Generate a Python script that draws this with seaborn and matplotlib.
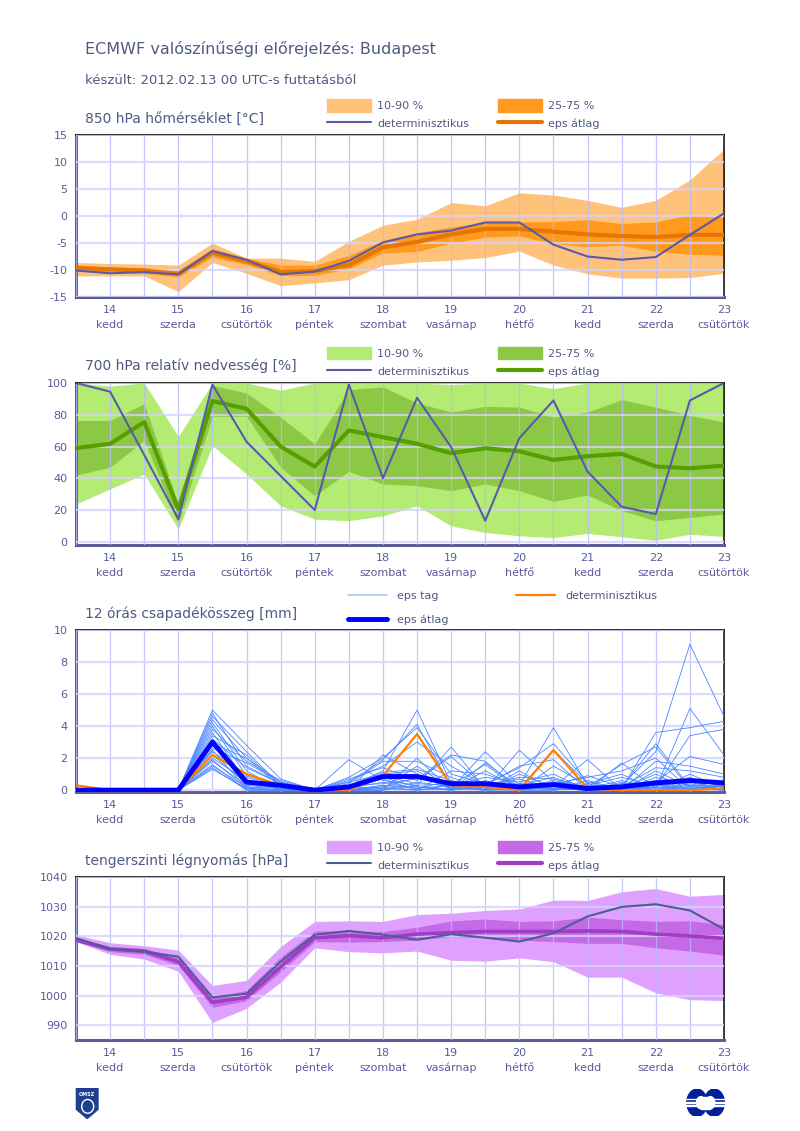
import numpy as np
import pandas as pd
import matplotlib
matplotlib.use("Agg")
import matplotlib.pyplot as plt
from matplotlib.patches import Patch, Polygon, Ellipse, Rectangle
from matplotlib.lines import Line2D
import seaborn as sns

# time axis: days of February 2012, 12 hour steps
days = [13.5, 14.0, 14.5, 15.0, 15.5, 16.0, 16.5, 17.0, 17.5, 18.0,
        18.5, 19.0, 19.5, 20.0, 20.5, 21.0, 21.5, 22.0, 22.5, 23.0]
day_ticks = [14, 15, 16, 17, 18, 19, 20, 21, 22, 23]
day_names = ["kedd", "szerda", "csütörtök", "péntek", "szombat",
             "vasárnap", "hétfő", "kedd", "szerda", "csütörtök"]

# 850 hPa temperature
t_det = [-10.1, -10.6, -10.4, -10.8, -6.5, -8.1, -10.8, -10.3, -8.3, -4.9,
         -3.4, -2.7, -1.2, -1.2, -5.3, -7.5, -8.1, -7.6, -3.5, 0.5]
t_mean = [-9.6, -9.9, -10.1, -10.7, -6.8, -8.4, -10.3, -10.2, -9.1, -5.8,
          -4.8, -3.4, -2.4, -2.4, -2.9, -3.4, -3.7, -3.9, -3.5, -3.5]
t_p10 = [-11.1, -11.1, -11.1, -14.0, -8.6, -10.6, -12.9, -12.4, -11.8, -9.1,
         -8.5, -8.2, -7.7, -6.5, -9.1, -10.7, -11.5, -11.5, -11.4, -10.6]
t_p90 = [-8.6, -8.8, -8.9, -9.1, -5.0, -7.8, -7.8, -8.4, -4.7, -1.7,
         -0.6, 2.5, 1.9, 4.3, 3.9, 2.9, 1.6, 2.9, 6.7, 12.4]
t_p25 = [-10.1, -10.4, -10.6, -11.3, -7.6, -9.0, -11.0, -11.0, -9.8, -6.8,
         -6.6, -5.0, -3.9, -3.7, -5.1, -5.7, -5.4, -6.5, -7.1, -7.3]
t_p75 = [-9.1, -9.4, -9.6, -10.1, -6.0, -7.8, -9.1, -9.1, -7.3, -4.5,
         -3.1, -2.0, -1.2, -1.1, -1.0, -0.7, -1.4, -1.1, 0.2, -0.3]

# 700 hPa relative humidity
rh_det = [100, 94.5, 54.7, 14.3, 99, 63, 41.5, 20, 99, 40,
          90.7, 59.6, 13.3, 65.3, 89, 44.2, 22.1, 17.5, 89, 100]
rh_mean = [59, 61.7, 75.4, 20.6, 88.6, 83.8, 60, 47.4, 70.1, 65.9,
           61.7, 55.8, 58.9, 57, 51.6, 53.9, 55.4, 47.4, 46.3, 48]
rh_p10 = [23.8, 33.3, 42.7, 8, 60.6, 42.7, 22.7, 14.3, 13.3, 16.4,
          22.7, 10.1, 5.9, 3.8, 2.7, 5.3, 3.2, 1, 4.8, 3.4]
rh_p90 = [100, 98, 100, 66.3, 100, 100, 95.4, 100, 100, 100,
          100, 99, 100, 100, 96.4, 100, 100, 100, 100, 100]
rh_p25 = [42, 47, 63.8, 11.2, 79, 79, 47, 29, 44.4, 36.4,
          35.4, 32.2, 36.4, 32.2, 25.5, 29.5, 19.6, 13.3, 15.4, 17.5]
rh_p75 = [76.4, 76.4, 87, 23.8, 98.5, 93.7, 78.5, 61.7, 95.8, 97.5,
          87.4, 81.7, 85.3, 84.8, 78.5, 81.7, 89.5, 84.8, 79.6, 75.4]

# 12 hour precipitation
pr_det = [0.3, 0, 0, 0, 2.2, 1.0, 0.3, 0, 0, 0.9,
          3.5, 0.3, 0.2, 0, 2.5, 0.1, 0, 0, 0, 0.1]
pr_mean = [0, 0, 0, 0, 3.0, 0.5, 0.3, 0, 0.2, 0.85,
           0.85, 0.4, 0.4, 0.2, 0.35, 0.1, 0.2, 0.45, 0.6, 0.45]
eps_tag = [
    [0, 0, 0, 0, 5.0, 2.8, 0.7, 0, 0.2, 1.2, 5.0, 0.4, 0.2, 0.1, 0.6, 0.1, 0.3, 2.4, 9.1, 4.6],
    [0, 0, 0, 0, 4.8, 1.5, 0.4, 0, 1.9, 0.6, 0.3, 2.7, 0.1, 0.0, 0.2, 1.9, 0.0, 0.8, 0.3, 0.0],
    [0, 0, 0, 0, 4.6, 2.4, 0.3, 0, 0.0, 2.2, 1.0, 0.1, 2.4, 0.3, 3.9, 0.3, 0.1, 3.6, 3.9, 4.3],
    [0, 0, 0, 0, 4.4, 2.0, 0.5, 0, 0.5, 1.9, 4.1, 0.2, 0.0, 2.5, 0.5, 0.0, 1.7, 0.1, 5.1, 2.2],
    [0, 0, 0, 0, 4.2, 1.2, 0.0, 0, 0.3, 0.4, 0.7, 2.2, 1.8, 0.0, 0.3, 0.9, 0.2, 2.9, 0.2, 0.1],
    [0, 0, 0, 0, 4.0, 0.9, 0.2, 0, 0.8, 2.0, 3.9, 1.0, 0.4, 1.4, 2.9, 0.5, 0.0, 0.2, 3.4, 3.8],
    [0, 0, 0, 0, 3.8, 1.8, 0.6, 0, 0.1, 0.8, 0.2, 0.0, 1.7, 0.2, 0.0, 0.2, 1.6, 2.7, 0.1, 0.0],
    [0, 0, 0, 0, 3.6, 0.5, 0.1, 0, 0.6, 1.5, 3.0, 1.5, 0.3, 1.5, 1.9, 0.0, 0.4, 0.5, 2.1, 1.6],
    [0, 0, 0, 0, 3.4, 2.2, 0.3, 0, 0.0, 0.3, 0.1, 0.3, 1.6, 0.0, 0.4, 0.8, 1.2, 2.0, 0.0, 0.3],
    [0, 0, 0, 0, 3.2, 1.4, 0.4, 0, 0.4, 1.8, 1.8, 0.8, 0.0, 1.0, 0.2, 0.1, 0.0, 1.8, 1.5, 1.0],
    [0, 0, 0, 0, 3.0, 0.2, 0.0, 0, 0.2, 0.1, 1.5, 0.1, 1.2, 0.1, 2.5, 0.4, 1.0, 0.0, 0.5, 0.0],
    [0, 0, 0, 0, 2.9, 2.0, 0.2, 0, 0.7, 1.4, 0.6, 2.1, 0.2, 0.7, 0.1, 0.0, 0.2, 1.4, 1.2, 0.8],
    [0, 0, 0, 0, 2.8, 0.8, 0.1, 0, 0.0, 0.0, 2.0, 0.0, 0.6, 0.0, 1.5, 0.3, 0.8, 0.2, 0.8, 0.2],
    [0, 0, 0, 0, 2.6, 1.7, 0.5, 0, 0.3, 1.1, 1.3, 0.6, 0.0, 1.2, 0.0, 0.6, 0.0, 1.2, 0.2, 0.6],
    [0, 0, 0, 0, 2.5, 0.1, 0.0, 0, 0.1, 0.7, 0.0, 1.2, 1.0, 0.3, 0.8, 0.0, 0.5, 0.0, 1.0, 0.1],
    [0, 0, 0, 0, 2.4, 1.0, 0.2, 0, 0.5, 1.0, 1.2, 0.0, 0.3, 0.8, 0.7, 0.2, 0.3, 0.6, 0.0, 0.5],
    [0, 0, 0, 0, 2.2, 0.4, 0.1, 0, 0.0, 0.2, 0.8, 0.5, 0.0, 0.0, 0.3, 0.1, 0.6, 0.1, 0.6, 0.0],
    [0, 0, 0, 0, 2.0, 0.6, 0.3, 0, 0.2, 0.9, 0.4, 0.3, 0.8, 0.5, 1.0, 0.0, 0.1, 1.0, 0.0, 0.4],
    [0, 0, 0, 0, 1.9, 0.1, 0.0, 0, 0.0, 0.0, 0.5, 0.2, 0.5, 0.0, 0.0, 0.3, 0.2, 0.0, 0.3, 0.2],
    [0, 0, 0, 0, 1.8, 0.3, 0.1, 0, 0.1, 0.5, 0.1, 0.6, 0.1, 0.4, 0.4, 0.0, 0.0, 0.3, 0.1, 0.0],
    [0, 0, 0, 0, 1.6, 0.0, 0.0, 0, 0.0, 0.3, 0.2, 0.0, 0.3, 0.2, 0.2, 0.1, 0.1, 0.4, 0.0, 0.1],
    [0, 0, 0, 0, 1.5, 0.2, 0.1, 0, 0.0, 0.1, 0.0, 0.3, 0.0, 0.1, 0.1, 0.0, 0.4, 0.0, 0.2, 0.0],
    [0, 0, 0, 0, 1.4, 0.0, 0.0, 0, 0.0, 0.0, 0.3, 0.0, 0.2, 0.0, 0.0, 0.2, 0.0, 0.2, 0.0, 0.3],
    [0, 0, 0, 0, 1.3, 0.1, 0.0, 0, 0.0, 0.2, 0.0, 0.1, 0.0, 0.3, 0.1, 0.0, 0.1, 0.0, 0.4, 0.0],
]

# mean sea level pressure
p_det = [1019.3, 1015.7, 1014.8, 1013.1, 999.4, 1000.6, 1011.4, 1020.5, 1021.8, 1020.5,
         1018.8, 1020.7, 1019.5, 1018.2, 1021.0, 1026.7, 1029.9, 1030.8, 1028.7, 1022.4]
p_mean = [1018.7, 1015.7, 1015.0, 1011.4, 997.7, 999.4, 1009.7, 1019.5, 1020.2, 1019.5,
          1020.7, 1021.2, 1021.6, 1021.6, 1021.6, 1021.8, 1021.6, 1020.7, 1020.1, 1019.3]
p_p10 = [1018.2, 1013.9, 1012.3, 1008.2, 990.9, 995.7, 1004.5, 1016.1, 1014.8, 1014.4,
         1015.0, 1011.9, 1011.6, 1012.7, 1011.4, 1006.2, 1006.2, 1000.9, 998.6, 998.3]
p_p90 = [1020.5, 1017.8, 1016.8, 1015.3, 1003.4, 1005.1, 1016.5, 1025.0, 1025.2, 1025.0,
         1027.3, 1027.8, 1028.7, 1029.2, 1032.2, 1032.1, 1035.0, 1036.1, 1033.5, 1034.1]
p_p25 = [1018.2, 1014.8, 1013.9, 1010.2, 996.0, 998.3, 1008.0, 1018.2, 1018.0, 1018.2,
         1018.7, 1019.9, 1019.5, 1018.7, 1018.2, 1017.6, 1017.6, 1016.1, 1015.0, 1013.6]
p_p75 = [1019.8, 1016.5, 1015.9, 1012.7, 999.4, 1001.7, 1013.0, 1021.8, 1021.8, 1021.6,
         1023.0, 1025.2, 1025.8, 1025.0, 1025.2, 1026.4, 1025.6, 1025.0, 1025.2, 1023.9]

TXT = "#4f5a84"
TICK = "#5a5a9c"
AX = "#5c5c96"

sns.set_style("white")
plt.rcParams["font.family"] = ["DejaVu Sans"]
plt.rcParams["axes.unicode_minus"] = False

fig = plt.figure(figsize=(8, 11.31), dpi=100)

# panel boxes in figure fractions (left, bottom, width, height)
boxes = [(0.095, 0.7374, 0.81, 0.1432),
         (0.095, 0.5181, 0.81, 0.1433),
         (0.095, 0.2997, 0.81, 0.1433),
         (0.095, 0.0805, 0.81, 0.1441)]
axes = [fig.add_axes(b) for b in boxes]


def style_axis(ax, ylim, yticks):
    ax.set_xlim(days[0], days[-1])
    ax.set_ylim(*ylim)
    ax.set_yticks(yticks)
    ax.set_xticks(days)
    labels = [str(int(d)) if d in day_ticks else "" for d in days]
    ax.set_xticklabels(labels)
    for d, name in zip(day_ticks, day_names):
        ax.annotate(name, xy=(d, 0), xycoords=("data", "axes fraction"),
                    xytext=(0, -22), textcoords="offset points",
                    ha="center", va="baseline", fontsize=8, color=TICK)
    ax.tick_params(axis="both", colors=TICK, labelsize=8, length=4, width=1, pad=2)
    ax.tick_params(axis="x", pad=1.5)
    ax.set_axisbelow(False)
    ax.grid(axis="x", color="#b8b8ff", lw=0.9, alpha=0.8, zorder=2)
    ax.grid(axis="y", color="#d4d4fa", lw=1.6, alpha=0.8, zorder=2)
    for s in ["top", "right"]:
        ax.spines[s].set_color("#111111")
        ax.spines[s].set_linewidth(1.2)
    for s in ["left", "bottom"]:
        ax.spines[s].set_color(AX)
        ax.spines[s].set_linewidth(2.2)
    ax.set_xlabel("")
    ax.set_ylabel("")


def band_panel(ax, p10, p90, p25, p75, mean, det, c_out, c_in, c_mean, c_det, mean_lw):
    ax.fill_between(days, p10, p90, color=c_out, lw=0, zorder=1)
    ax.fill_between(days, p25, p75, color=c_in, lw=0, zorder=1.5)
    df = pd.DataFrame({"nap": days, "atlag": mean, "det": det})
    sns.lineplot(data=df, x="nap", y="atlag", ax=ax, color=c_mean, lw=mean_lw, zorder=3)
    sns.lineplot(data=df, x="nap", y="det", ax=ax, color=c_det, lw=1.5, zorder=4)
    handles = [Patch(color=c_out), Line2D([], [], color=c_det, lw=1.5),
               Patch(color=c_in), Line2D([], [], color=c_mean, lw=3)]
    labels = ["10-90 %", "determinisztikus", "25-75 %", "eps átlag"]
    leg = ax.legend(handles, labels, ncol=2, loc="lower left",
                    bbox_to_anchor=(0.388, 1.035), frameon=False, fontsize=8,
                    handlelength=3.9, handleheight=1.4, handletextpad=0.6,
                    columnspacing=2.6, labelspacing=0.45, borderpad=0, borderaxespad=0)
    for t in leg.get_texts():
        t.set_color(TXT)


# panel 1
band_panel(axes[0], t_p10, t_p90, t_p25, t_p75, t_mean, t_det,
           "#ffc27a", "#ff9a1f", "#e67600", "#5a5aaa", 3.0)
style_axis(axes[0], (-15, 15), [-15, -10, -5, 0, 5, 10, 15])

# panel 2
band_panel(axes[1], rh_p10, rh_p90, rh_p25, rh_p75, rh_mean, rh_det,
           "#b4eb73", "#8cc846", "#55a000", "#5a5aaa", 3.0)
style_axis(axes[1], (-2, 100), [0, 20, 40, 60, 80, 100])

# panel 3
ax = axes[2]
rows = []
for m, vals in enumerate(eps_tag):
    for d, v in zip(days, vals):
        rows.append({"tag": m, "nap": d, "csap": v})
eps_df = pd.DataFrame(rows)
sns.lineplot(data=eps_df, x="nap", y="csap", units="tag", estimator=None, ax=ax,
             color="#4a86ff", lw=0.6, zorder=3)
pr_df = pd.DataFrame({"nap": days, "atlag": pr_mean, "det": pr_det})
sns.lineplot(data=pr_df, x="nap", y="det", ax=ax, color="#ff8000", lw=1.6, zorder=4)
sns.lineplot(data=pr_df, x="nap", y="atlag", ax=ax, color="#0000ff", lw=3.5, zorder=5)
handles = [Line2D([], [], color="#a9c4ff", lw=1.2), Line2D([], [], color="#0000ff", lw=3.5),
           Line2D([], [], color="#ff8000", lw=1.6)]
leg = ax.legend(handles, ["eps tag", "eps átlag", "determinisztikus"], ncol=2, loc="lower left",
                bbox_to_anchor=(0.42, 1.033), frameon=False, fontsize=8,
                handlelength=3.5, handletextpad=0.9, columnspacing=6.1,
                labelspacing=1.2, borderpad=0, borderaxespad=0)
for t in leg.get_texts():
    t.set_color(TXT)
style_axis(ax, (-0.12, 10), [0, 2, 4, 6, 8, 10])

# panel 4
band_panel(axes[3], p_p10, p_p90, p_p25, p_p75, p_mean, p_det,
           "#e0a0ff", "#c46ae6", "#a03cc8", "#4a5f8f", 2.6)
style_axis(axes[3], (985, 1040), [990, 1000, 1010, 1020, 1030, 1040])

# titles
fig.text(0.106, 0.957, "ECMWF valószínűségi előrejelzés: Budapest", color=TXT,
         fontsize=11.5, va="center")
fig.text(0.106, 0.929, "készült: 2012.02.13 00 UTC-s futtatásból", color=TXT,
         fontsize=9.5, va="center")
panel_titles = ["850 hPa hőmérséklet [°C]", "700 hPa relatív nedvesség [%]",
                "12 órás csapadékösszeg [mm]", "tengerszinti légnyomás [hPa]"]
title_y = [0.8948, 0.6764, 0.4572, 0.2387]
for tt, ty in zip(panel_titles, title_y):
    fig.text(0.106, ty, tt, color=TXT, fontsize=10, va="center")

# logos
lg = fig.add_axes([0.094, 0.011, 0.03, 0.027])
lg.set_xlim(0, 1)
lg.set_ylim(0, 1)
lg.axis("off")
lg.add_patch(Polygon([[0.05, 1], [0.95, 1], [0.95, 0.3], [0.5, 0], [0.05, 0.3]],
                     closed=True, color="#1f3f8f"))
lg.text(0.5, 0.8, "OMSZ", color="white", fontsize=3.5, ha="center", va="center",
        fontweight="bold")
lg.add_patch(Ellipse((0.52, 0.4), 0.5, 0.45, fill=False, ec="white", lw=1))

ec = fig.add_axes([0.858, 0.013, 0.048, 0.024])
ec.set_xlim(0, 2)
ec.set_ylim(0, 1)
ec.axis("off")
ec.add_patch(Ellipse((0.55, 0.5), 1.05, 1.0, color="#00209a"))
ec.add_patch(Ellipse((1.45, 0.5), 1.05, 1.0, color="#00209a"))
ec.add_patch(Ellipse((0.75, 0.5), 0.45, 0.45, color="white"))
ec.add_patch(Ellipse((1.25, 0.5), 0.45, 0.45, color="white"))
ec.add_patch(Rectangle((0.75, 0.28), 0.5, 0.44, color="white"))
for yy in [0.38, 0.5, 0.62]:
    ec.add_patch(Rectangle((0.0, yy), 2.0, 0.025, color="white"))

fig.savefig("out.png", dpi=100)
